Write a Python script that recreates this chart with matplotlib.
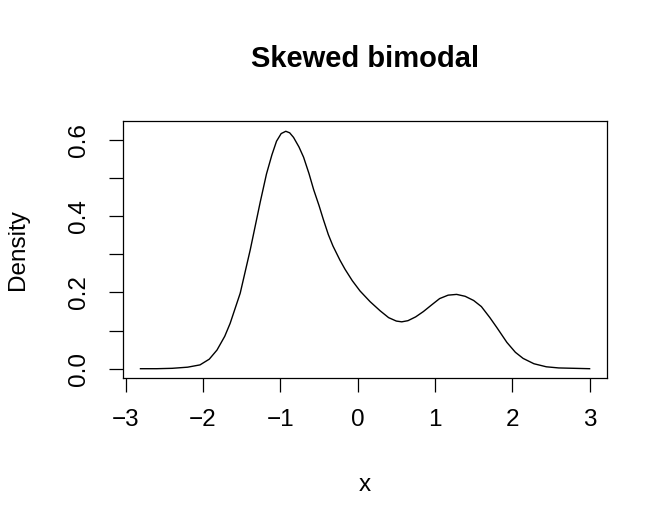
import matplotlib
matplotlib.use("Agg")
from matplotlib import pyplot as plt

# density curve
x_vals = [-2.81, -2.6, -2.4, -2.2, -2.04, -1.92, -1.82, -1.72, -1.65, -1.52,
          -1.39, -1.26, -1.18, -1.11, -1.05, -0.99, -0.93, -0.88, -0.83, -0.76,
          -0.70, -0.63, -0.57, -0.50, -0.445, -0.38, -0.32, -0.23, -0.164, -0.07,
          0.03, 0.16, 0.29, 0.40, 0.50, 0.57, 0.65, 0.75, 0.85,
          0.96, 1.06, 1.17, 1.28, 1.39, 1.50, 1.60, 1.71, 1.80, 1.93,
          2.04, 2.14, 2.28, 2.44, 2.6, 2.8, 3.0]
density = [0.000, 0.000, 0.001, 0.004, 0.010, 0.025, 0.049, 0.085, 0.119, 0.198,
           0.312, 0.438, 0.511, 0.561, 0.597, 0.617, 0.623, 0.619, 0.607, 0.582,
           0.555, 0.512, 0.470, 0.428, 0.392, 0.352, 0.322, 0.285, 0.261, 0.231,
           0.204, 0.176, 0.152, 0.134, 0.125, 0.123, 0.126, 0.136, 0.150,
           0.168, 0.184, 0.193, 0.195, 0.190, 0.179, 0.163, 0.134, 0.108, 0.069,
           0.043, 0.027, 0.013, 0.005, 0.002, 0.001, 0.000]

x_ticks = [-3, -2, -1, 0, 1, 2, 3]
y_ticks = [0.0, 0.1, 0.2, 0.3, 0.4, 0.5, 0.6]
y_labels = ["0.0", "", "0.2", "", "0.4", "", "0.6"]

plt.rcParams["font.family"] = ["Liberation Sans", "DejaVu Sans"]

fig = plt.figure(figsize=(6.69, 5.32), dpi=100)
ax = fig.add_axes([123 / 669, 1 - 378 / 532, 484 / 669, 257 / 532])

ax.plot(x_vals, density, color="black", linewidth=1.0)

ax.set_xlim(-3.036, 3.225)
ax.set_ylim(-0.0244, 0.650)

ax.set_xticks(x_ticks)
ax.set_xticklabels(["\u22123", "\u22122", "\u22121", "0", "1", "2", "3"])
ax.set_yticks(y_ticks)
ax.set_yticklabels(y_labels, rotation=90, va="center")

ax.tick_params(axis="both", direction="out", length=10, width=0.9,
               labelsize=17.5, color="black")
ax.tick_params(axis="x", pad=12)
ax.tick_params(axis="y", pad=14)
for s in ax.spines.values():
    s.set_linewidth(0.9)

ax.set_xlabel("x", fontsize=17.5, va="center")
ax.xaxis.set_label_coords(0.5, -0.416)
ax.set_ylabel("Density", fontsize=17.5, va="center")
ax.yaxis.set_label_coords(-0.217, 0.5)

fig.text(0.5 * (123 + 607) / 669, 1 - 59 / 532, "Skewed bimodal",
         fontsize=21, fontweight="bold", ha="center", va="center")

fig.savefig("out.png", dpi=100)
